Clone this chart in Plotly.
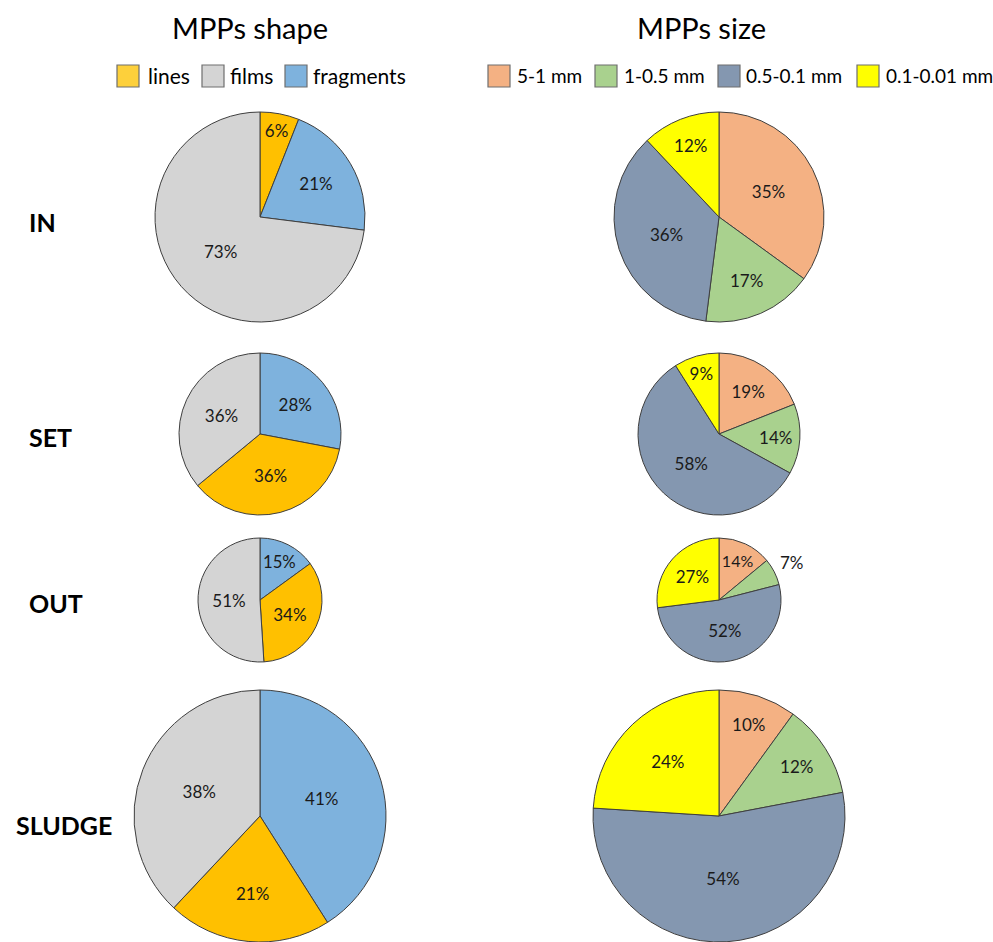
import math
import plotly.graph_objects as go

W, H = 993, 942

# ---- data -------------------------------------------------------------
rows = ["IN", "SET", "OUT", "SLUDGE"]

shape_labels = ["lines", "films", "fragments"]
shape_colors = {"lines": "#FFC000", "films": "#D4D4D4", "fragments": "#7EB2DD"}
shape_swatch = {"lines": "#FDD03B", "films": "#D4D4D4", "fragments": "#7EB2DD"}

# slice order (clockwise from 12 o'clock) and values per sampling point
shape_order = {
    "IN": ["lines", "fragments", "films"],
    "SET": ["fragments", "lines", "films"],
    "OUT": ["fragments", "lines", "films"],
    "SLUDGE": ["fragments", "lines", "films"],
}
shape_values = {
    "IN": [6, 21, 73],
    "SET": [28, 36, 36],
    "OUT": [15, 34, 51],
    "SLUDGE": [41, 21, 38],
}

size_labels = ["5-1 mm", "1-0.5 mm", "0.5-0.1 mm", "0.1-0.01 mm"]
size_colors = {"5-1 mm": "#F4B183", "1-0.5 mm": "#A9D18E",
               "0.5-0.1 mm": "#8497B0", "0.1-0.01 mm": "#FFFF00"}
size_values = {
    "IN": [35, 17, 36, 12],
    "SET": [19, 14, 58, 9],
    "OUT": [14, 7, 52, 27],
    "SLUDGE": [10, 12, 54, 24],
}
# slices whose label sits outside the pie
size_outside = {"OUT": ["1-0.5 mm"]}

# ---- layout geometry (pixels) ----------------------------------------
shape_cx, size_cx = 260, 719
row_cy = {"IN": 217, "SET": 434, "OUT": 600, "SLUDGE": 816}
row_r = {"IN": 105, "SET": 81, "OUT": 62, "SLUDGE": 126}
row_label_pos = {"IN": (27, 222), "SET": (27, 437), "OUT": (27, 603), "SLUDGE": (14, 825)}

FONT = "Lato, Carlito, 'Open Sans', sans-serif"
EDGE = "#3F3F3F"
TXT = "#1a1a1a"


def domain(cx, cy, r):
    return dict(x=[(cx - r) / W, (cx + r) / W],
                y=[1 - (cy + r) / H, 1 - (cy - r) / H])


def label(px, py, text, size, xanchor="center", color="#000000"):
    return dict(x=px / W, y=1 - py / H, xref="paper", yref="paper",
                xanchor=xanchor, yanchor="middle", text=text, showarrow=False,
                font=dict(family=FONT, size=size, color=color))


fig = go.Figure()
annotations = []
shapes = []

for row in rows:
    cy, r = row_cy[row], row_r[row]

    labels = shape_order[row]
    fig.add_trace(go.Pie(
        labels=labels, values=shape_values[row], sort=False,
        direction="clockwise", rotation=0,
        marker=dict(colors=[shape_colors[l] for l in labels],
                    line=dict(color=EDGE, width=1)),
        texttemplate="%{value}%", textposition="inside",
        insidetextorientation="horizontal",
        textfont=dict(family=FONT, size=17, color=TXT),
        domain=domain(shape_cx, cy, r), showlegend=False, hoverinfo="label+value",
    ))

    vals = size_values[row]
    outside = size_outside.get(row, [])
    fig.add_trace(go.Pie(
        labels=size_labels, values=vals, sort=False,
        direction="clockwise", rotation=0,
        marker=dict(colors=[size_colors[l] for l in size_labels],
                    line=dict(color=EDGE, width=1)),
        texttemplate=["" if l in outside else "%{value}%" for l in size_labels],
        textposition="inside", insidetextorientation="horizontal",
        textfont=dict(family=FONT, size=17, color=TXT),
        domain=domain(size_cx, cy, r), showlegend=False, hoverinfo="label+value",
    ))

    # labels placed outside their slice, at the slice's mid-angle
    total = sum(vals)
    cum = 0
    for lab, v in zip(size_labels, vals):
        if lab in outside:
            ang = math.radians((cum + v / 2) / total * 360)
            dist = r * 1.32
            px = size_cx + dist * math.sin(ang)
            py = cy - dist * math.cos(ang)
            annotations.append(label(px, py, f"{v}%", 17, color=TXT))
        cum += v

    lx, ly = row_label_pos[row]
    annotations.append(label(lx, ly, f"<b>{row}</b>", 25, xanchor="left"))

# column titles
for title, cx in [("MPPs shape", 250), ("MPPs size", 701)]:
    annotations.append(label(cx, 28, title, 29))


# legends: colour swatch + label
def add_legend(items, colors, swatch_x, text_x, fsize, y0=65, y1=87):
    for lab, sx, tx in zip(items, swatch_x, text_x):
        shapes.append(dict(
            type="rect", xref="paper", yref="paper",
            x0=sx / W, x1=(sx + 22) / W, y0=1 - y1 / H, y1=1 - y0 / H,
            fillcolor=colors[lab], line=dict(color="#6E6E6E", width=1.2)))
        annotations.append(label(tx, (y0 + y1) / 2, lab, fsize, xanchor="left"))


add_legend(shape_labels, shape_swatch, [117, 202, 285], [146, 228, 311], 21)
add_legend(size_labels, size_colors, [488, 595, 718, 857], [515, 622, 744, 884], 19)

fig.update_layout(
    width=W, height=H, margin=dict(l=0, r=0, t=0, b=0),
    paper_bgcolor="white", plot_bgcolor="white",
    annotations=annotations, shapes=shapes,
)

fig.write_html("out.html")
